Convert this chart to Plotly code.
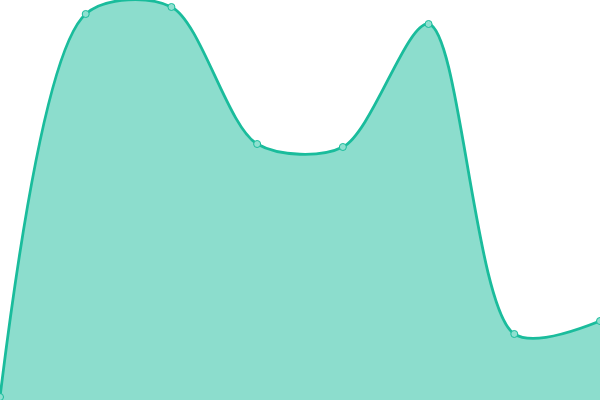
import plotly.graph_objects as go

x_vals = [0, 1, 2, 3, 4, 5, 6, 7]
y_vals = [3, 386, 393, 256, 253, 376, 66, 79]

fig = go.Figure()
fig.add_trace(go.Scatter(
    x=x_vals, y=y_vals,
    mode="lines+markers",
    line=dict(shape="spline", smoothing=0.85, color="#1abc9c", width=2.8),
    fill="tozeroy",
    fillcolor="rgba(26,188,156,0.5)",
    marker=dict(size=7, color="#8fe0d0", line=dict(color="#1abc9c", width=1)),
    cliponaxis=False,
    hoverinfo="skip",
))
fig.update_layout(
    width=600, height=400,
    margin=dict(l=0, r=0, t=0, b=0),
    paper_bgcolor="white", plot_bgcolor="white",
    showlegend=False,
    xaxis=dict(range=[0, 7], visible=False, fixedrange=True),
    yaxis=dict(range=[0, 400], visible=False, fixedrange=True),
)
fig.write_html(
    "out.html",
    config={"displayModeBar": False},
    post_script="document.body.style.margin='0';document.body.style.padding='0';",
)
